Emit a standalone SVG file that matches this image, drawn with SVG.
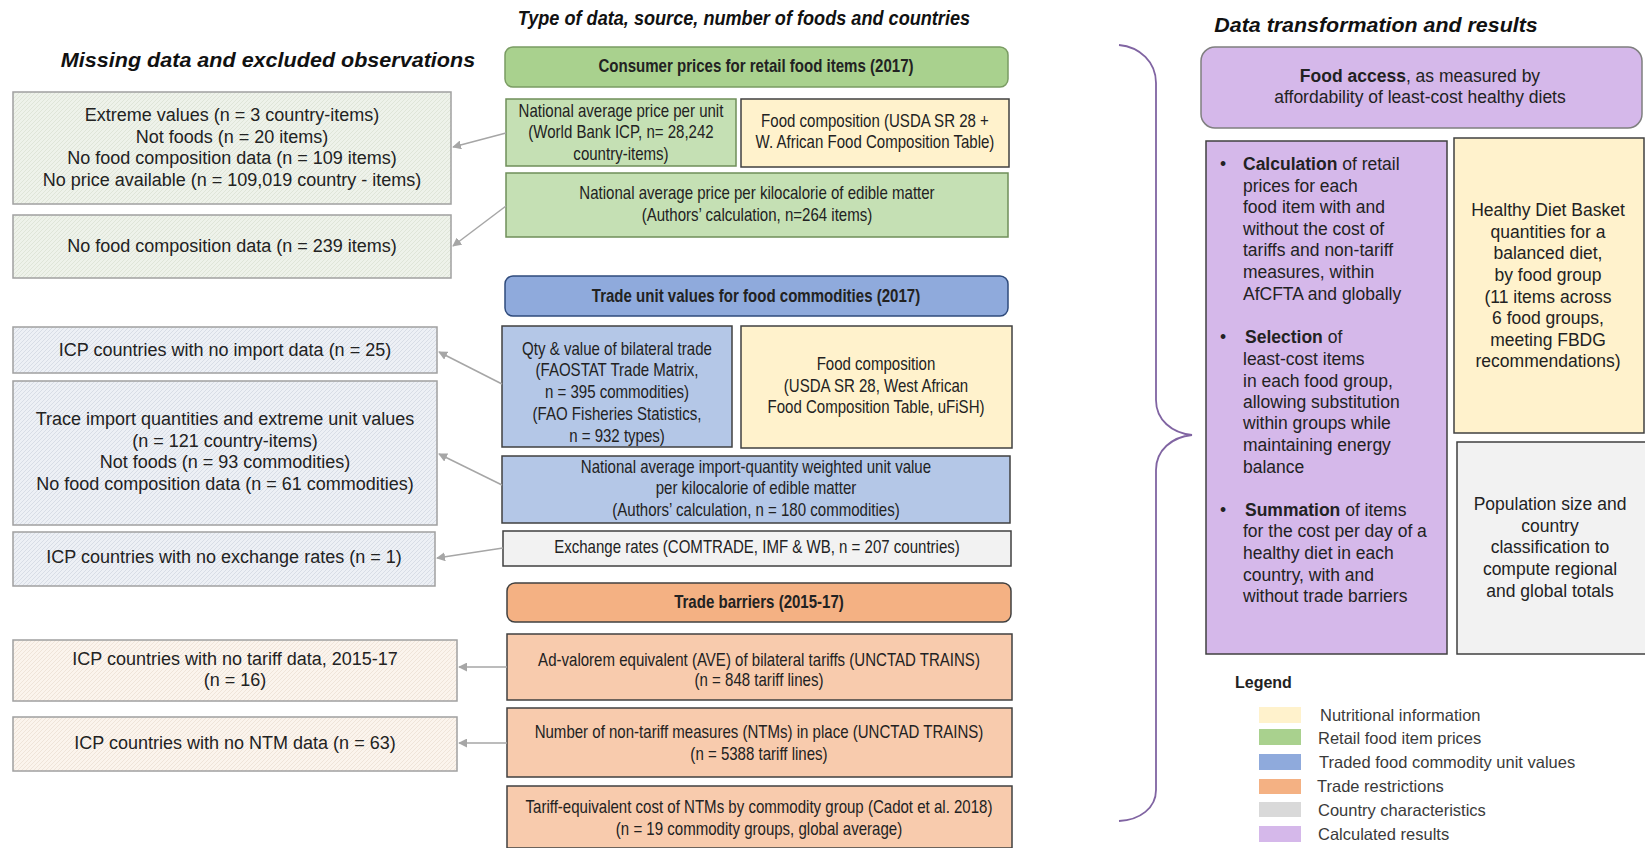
<svg xmlns="http://www.w3.org/2000/svg" width="1645" height="848" viewBox="0 0 1645 848">
<defs>
<pattern id="hg" width="4" height="4" patternUnits="userSpaceOnUse"><rect width="4" height="4" fill="#eef2ea"/><path d="M0,4 L4,0" stroke="#dfe5d8" stroke-width="1"/></pattern>
<pattern id="hb" width="4" height="4" patternUnits="userSpaceOnUse"><rect width="4" height="4" fill="#edf0f5"/><path d="M0,4 L4,0" stroke="#d8dde6" stroke-width="1"/></pattern>
<pattern id="ho" width="4" height="4" patternUnits="userSpaceOnUse"><rect width="4" height="4" fill="#fbf4ed"/><path d="M0,4 L4,0" stroke="#efe4d9" stroke-width="1"/></pattern>
<marker id="arr" viewBox="0 0 10 10" refX="9" refY="5" markerWidth="9" markerHeight="9" orient="auto" markerUnits="userSpaceOnUse"><path d="M0,0 L10,5 L0,10 z" fill="#a6a6a6"/></marker>
<style>
text{font-family:"Liberation Sans",Arial,sans-serif;fill:#222;}
.t{font-size:18px;text-anchor:middle;}
.m{font-size:18px;text-anchor:middle;}
.r{font-size:17.5px;text-anchor:middle;}
.tl{font-size:17.5px;}
.h{font-size:18px;font-weight:bold;text-anchor:middle;}
.title{font-size:20px;font-weight:bold;font-style:italic;text-anchor:middle;fill:#111;}
.lg{font-size:16.5px;fill:#3a3a3a;}
.lbox{stroke:#a0a0a0;stroke-width:1.5;}
.gb{fill:#c5e0b4;stroke:#6f8f5a;stroke-width:1.5;}
.yb{fill:#fff2cc;stroke:#404040;stroke-width:1.5;}
.bb{fill:#b4c7e7;stroke:#404040;stroke-width:1.5;}
.ob{fill:#f8cbad;stroke:#404040;stroke-width:1.5;}
.conn{stroke:#a6a6a6;stroke-width:1.5;fill:none;marker-end:url(#arr);}
</style>
</defs>
<rect width="1645" height="848" fill="#ffffff"/>

<text class="title" x="268" y="67" transform="matrix(1.078 0 0 1 -20.9 0)">Missing data and excluded observations</text>
<text class="title" x="744" y="25" transform="matrix(0.906 0 0 1 69.9 0)">Type of data, source, number of foods and countries</text>
<text class="title" x="1376" y="32" transform="matrix(1.07 0 0 1 -96.3 0)">Data transformation and results</text>

<!-- Left column -->
<g id="miss-retail">
<rect class="lbox" x="13" y="92" width="438" height="112" fill="url(#hg)"/>
<text class="t" x="232" y="121">Extreme values  (n = 3 country-items)</text>
<text class="t" x="232" y="143">Not foods (n = 20 items)</text>
<text class="t" x="232" y="164">No food composition data (n = 109 items)</text>
<text class="t" x="232" y="186">No price available  (n = 109,019 country - items)</text>
</g>
<g id="miss-kcal">
<rect class="lbox" x="13" y="215" width="438" height="63" fill="url(#hg)"/>
<text class="t" x="232" y="252">No food composition data (n = 239 items)</text>
</g>
<g id="miss-import">
<rect class="lbox" x="13" y="327" width="424" height="46" fill="url(#hb)"/>
<text class="t" x="225" y="356">ICP countries with no import data (n = 25)</text>
</g>
<g id="miss-trade">
<rect class="lbox" x="13" y="381" width="424" height="144" fill="url(#hb)"/>
<text class="t" x="225" y="425">Trace import quantities and extreme unit values</text>
<text class="t" x="225" y="447">(n = 121 country-items)</text>
<text class="t" x="225" y="468">Not foods (n = 93 commodities)</text>
<text class="t" x="225" y="490">No food composition data (n = 61 commodities)</text>
</g>
<g id="miss-exch">
<rect class="lbox" x="13" y="532" width="422" height="54" fill="url(#hb)"/>
<text class="t" x="224" y="563">ICP countries with no exchange rates (n = 1)</text>
</g>
<g id="miss-tariff">
<rect class="lbox" x="13" y="640" width="444" height="61" fill="url(#ho)"/>
<text class="t" x="235" y="665">ICP countries with no tariff data, 2015-17</text>
<text class="t" x="235" y="686">(n = 16)</text>
</g>
<g id="miss-ntm">
<rect class="lbox" x="13" y="717" width="444" height="54" fill="url(#ho)"/>
<text class="t" x="235" y="749">ICP countries with no NTM data (n = 63)</text>
</g>

<!-- Middle column -->
<g id="hdr-consumer">
<rect x="505" y="47" width="503" height="40" rx="8" fill="#a9d18e" stroke="#7a9c63" stroke-width="1.5"/>
<g transform="matrix(0.836 0 0 1 123.98 0)"><text class="h" x="756" y="72">Consumer prices for retail food items (2017)</text></g>
</g>
<g id="price-unit">
<rect class="gb" x="506" y="99" width="230" height="67"/>
<g transform="matrix(0.836 0 0 1 101.84 0)">
<text class="m" x="621" y="117">National average  price per unit</text>
<text class="m" x="621" y="138">(World Bank ICP, n= 28,242</text>
<text class="m" x="621" y="160">country-items)</text>
</g>
</g>
<g id="foodcomp1">
<rect class="yb" x="741" y="99" width="268" height="68"/>
<g transform="matrix(0.836 0 0 1 143.5 0)">
<text class="m" x="875" y="127">Food composition (USDA SR 28 +</text>
<text class="m" x="875" y="148">W. African Food Composition Table)</text>
</g>
</g>
<g id="price-kcal">
<rect class="gb" x="506" y="173" width="502" height="64"/>
<g transform="matrix(0.836 0 0 1 124.15 0)">
<text class="m" x="757" y="199">National average  price per kilocalorie of edible matter</text>
<text class="m" x="757" y="221">(Authors’ calculation, n=264 items)</text>
</g>
</g>

<g id="hdr-trade">
<rect x="505" y="276" width="503" height="40" rx="8" fill="#8faadc" stroke="#2f4b7c" stroke-width="1.5"/>
<g transform="matrix(0.836 0 0 1 123.98 0)"><text class="h" x="756" y="302">Trade unit values for food commodities (2017)</text></g>
</g>
<g id="bilateral">
<rect class="bb" x="502" y="326" width="230" height="121"/>
<g transform="matrix(0.836 0 0 1 101.19 0)">
<text class="m" x="617" y="355">Qty &amp; value of bilateral trade</text>
<text class="m" x="617" y="376">(FAOSTAT Trade  Matrix,</text>
<text class="m" x="617" y="398">n = 395 commodities)</text>
<text class="m" x="617" y="420">(FAO Fisheries Statistics,</text>
<text class="m" x="617" y="442">n = 932 types)</text>
</g>
</g>
<g id="foodcomp2">
<rect class="yb" x="741" y="326" width="271" height="122"/>
<g transform="matrix(0.836 0 0 1 143.66 0)">
<text class="m" x="876" y="370">Food composition</text>
<text class="m" x="876" y="392">(USDA SR 28, West African</text>
<text class="m" x="876" y="413">Food Composition Table,  uFiSH)</text>
</g>
</g>
<g id="unitvalue">
<rect class="bb" x="502" y="456" width="508" height="67"/>
<g transform="matrix(0.836 0 0 1 123.98 0)">
<text class="m" x="756" y="473">National average  import-quantity weighted unit value</text>
<text class="m" x="756" y="494">per kilocalorie of edible matter</text>
<text class="m" x="756" y="516">(Authors’ calculation, n = 180 commodities)</text>
</g>
</g>
<g id="exchange">
<rect x="503" y="531" width="508" height="35" fill="#f2f2f2" stroke="#404040" stroke-width="1.5"/>
<g transform="matrix(0.836 0 0 1 124.15 0)"><text class="m" x="757" y="553">Exchange rates (COMTRADE,  IMF &amp; WB, n = 207 countries)</text></g>
</g>

<g id="hdr-barriers">
<rect x="507" y="583" width="504" height="39" rx="8" fill="#f4b183" stroke="#404040" stroke-width="1.5"/>
<g transform="matrix(0.836 0 0 1 124.48 0)"><text class="h" x="759" y="608">Trade barriers (2015-17)</text></g>
</g>
<g id="ave">
<rect class="ob" x="507" y="634" width="505" height="66"/>
<g transform="matrix(0.836 0 0 1 124.48 0)">
<text class="m" x="759" y="666">Ad-valorem  equivalent  (AVE) of bilateral  tariffs (UNCTAD  TRAINS)</text>
<text class="m" x="759" y="686">(n = 848 tariff  lines)</text>
</g>
</g>
<g id="ntm">
<rect class="ob" x="507" y="708" width="505" height="69"/>
<g transform="matrix(0.836 0 0 1 124.48 0)">
<text class="m" x="759" y="738">Number of non-tariff  measures (NTMs) in place (UNCTAD  TRAINS)</text>
<text class="m" x="759" y="760">(n = 5388 tariff lines)</text>
</g>
</g>
<g id="tariffeq">
<rect class="ob" x="507" y="786" width="505" height="62"/>
<g transform="matrix(0.836 0 0 1 124.48 0)">
<text class="m" x="759" y="813">Tariff-equivalent  cost of NTMs  by commodity group  (Cadot et al. 2018)</text>
<text class="m" x="759" y="835">(n = 19 commodity groups,  global average)</text>
</g>
</g>

<!-- Connectors -->
<g id="connectors">
<line class="conn" x1="506" y1="133" x2="453" y2="147"/>
<line class="conn" x1="506" y1="206" x2="453" y2="246"/>
<line class="conn" x1="502" y1="384" x2="439" y2="352"/>
<line class="conn" x1="502" y1="485" x2="439" y2="454"/>
<line class="conn" x1="503" y1="548" x2="437" y2="558"/>
<line class="conn" x1="507" y1="667" x2="459" y2="667"/>
<line class="conn" x1="507" y1="743" x2="459" y2="743"/>
<path id="brace" d="M1119,45 C1140,47 1156,62 1156,83 L1156,400 C1156,420 1172,433 1192,435 C1172,437 1156,450 1156,470 L1156,790 C1156,808 1140,820 1119,821" fill="none" stroke="#8064a2" stroke-width="1.8"/>
</g>

<!-- Right column -->
<g id="food-access">
<rect x="1201" y="47" width="441" height="81" rx="14" fill="#d5b8ea" stroke="#7f7f7f" stroke-width="1.5"/>
<text class="r" x="1420" y="82"><tspan font-weight="bold">Food access</tspan>, as measured  by</text>
<text class="r" x="1420" y="103">affordability  of least-cost healthy diets</text>
</g>
<g id="calc">
<rect x="1206" y="141" width="241" height="513" fill="#d5b8ea" stroke="#404040" stroke-width="1.5"/>
<text class="tl" x="1220" y="170">•</text>
<text class="tl" x="1243" y="170"><tspan font-weight="bold">Calculation</tspan> of retail</text>
<text class="tl" x="1243" y="192">prices for each</text>
<text class="tl" x="1243" y="213">food item with and</text>
<text class="tl" x="1243" y="235">without  the cost of</text>
<text class="tl" x="1243" y="256">tariffs  and non-tariff</text>
<text class="tl" x="1243" y="278">measures, within</text>
<text class="tl" x="1243" y="300">AfCFTA  and globally</text>
<text class="tl" x="1220" y="343">•</text>
<text class="tl" x="1245" y="343"><tspan font-weight="bold">Selection</tspan> of</text>
<text class="tl" x="1243" y="365">least-cost items</text>
<text class="tl" x="1243" y="387">in each food  group,</text>
<text class="tl" x="1243" y="408">allowing  substitution</text>
<text class="tl" x="1243" y="429">within groups while</text>
<text class="tl" x="1243" y="451">maintaining energy</text>
<text class="tl" x="1243" y="473">balance</text>
<text class="tl" x="1220" y="516">•</text>
<text class="tl" x="1245" y="516"><tspan font-weight="bold">Summation</tspan> of items</text>
<text class="tl" x="1243" y="537">for the cost per day of a</text>
<text class="tl" x="1243" y="559">healthy diet in each</text>
<text class="tl" x="1243" y="581">country, with and</text>
<text class="tl" x="1243" y="602">without  trade barriers</text>
</g>
<g id="hdb">
<rect x="1454" y="138" width="190" height="295" fill="#fff2cc" stroke="#404040" stroke-width="1.5"/>
<text class="r" x="1548" y="216">Healthy Diet Basket</text>
<text class="r" x="1548" y="238">quantities for a</text>
<text class="r" x="1548" y="259">balanced diet,</text>
<text class="r" x="1548" y="281">by food group</text>
<text class="r" x="1548" y="303">(11 items across</text>
<text class="r" x="1548" y="324">6 food groups,</text>
<text class="r" x="1548" y="346">meeting FBDG</text>
<text class="r" x="1548" y="367">recommendations)</text>
</g>
<g id="population">
<rect x="1457" y="442" width="190" height="212" fill="#f2f2f2" stroke="#404040" stroke-width="1.5"/>
<text class="r" x="1550" y="510">Population size and</text>
<text class="r" x="1550" y="532">country</text>
<text class="r" x="1550" y="553">classification to</text>
<text class="r" x="1550" y="575">compute regional</text>
<text class="r" x="1550" y="597">and global totals</text>
</g>

<g id="legend">
<text x="1235" y="688" font-size="16" font-weight="bold" fill="#222">Legend</text>
<rect x="1259" y="707" width="42" height="16" fill="#fff2cc"/>
<rect x="1259" y="729" width="42" height="16" fill="#a9d18e"/>
<rect x="1259" y="754" width="42" height="16" fill="#8faadc"/>
<rect x="1259" y="779" width="42" height="15" fill="#f4b183"/>
<rect x="1259" y="802" width="42" height="15" fill="#d9d9d9"/>
<rect x="1259" y="826" width="42" height="16" fill="#d5b8ea"/>
<text class="lg" x="1320" y="721">Nutritional information</text>
<text class="lg" x="1318" y="744">Retail food item prices</text>
<text class="lg" x="1319" y="768">Traded food commodity unit values</text>
<text class="lg" x="1317" y="792">Trade restrictions</text>
<text class="lg" x="1318" y="816">Country characteristics</text>
<text class="lg" x="1318" y="840">Calculated results</text>
</g>
</svg>
